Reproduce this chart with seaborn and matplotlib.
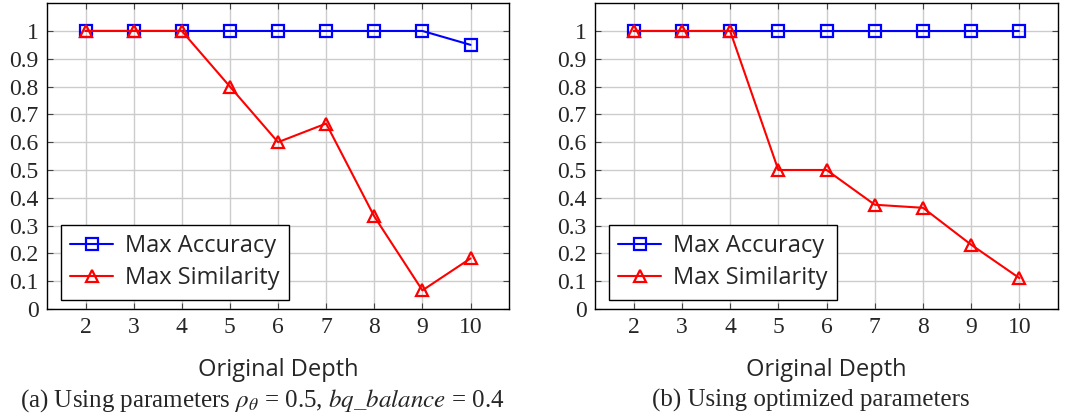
import matplotlib
matplotlib.use("Agg")
import matplotlib.pyplot as plt
import seaborn as sns

depths = [2, 3, 4, 5, 6, 7, 8, 9, 10]
acc_a = [1, 1, 1, 1, 1, 1, 1, 1, 0.95]
sim_a = [1, 1, 1, 0.8, 0.6, 0.667, 0.333, 0.067, 0.182]
acc_b = [1, 1, 1, 1, 1, 1, 1, 1, 1]
sim_b = [1, 1, 1, 0.5, 0.5, 0.375, 0.364, 0.231, 0.111]
y_ticks = [0, 0.1, 0.2, 0.3, 0.4, 0.5, 0.6, 0.7, 0.8, 0.9, 1]
y_labels = ["0", "0.1", "0.2", "0.3", "0.4", "0.5", "0.6", "0.7", "0.8", "0.9", "1"]
captions = [r"(a) Using parameters $\rho_\theta$ = 0.5, $bq\_balance$ = 0.4",
            "(b) Using optimized parameters"]

sns.set_style("white")
plt.rcParams["font.family"] = ["Liberation Serif", "DejaVu Serif"]
plt.rcParams["mathtext.fontset"] = "stix"
sans = ["Open Sans", "DejaVu Sans"]

fig = plt.figure(figsize=(10.78, 4.19), dpi=100)
axes = [fig.add_axes([0.0436, 0.2625, 0.4286, 0.730]),
        fig.add_axes([0.552, 0.2625, 0.4295, 0.730])]

for ax, acc, sim, cap in zip(axes, [acc_a, acc_b], [sim_a, sim_b], captions):
    sns.lineplot(x=depths, y=acc, ax=ax, color="blue", marker="s", markersize=9,
                 markerfacecolor="none", markeredgecolor="blue", markeredgewidth=1.6,
                 linewidth=1.5, label="Max Accuracy")
    sns.lineplot(x=depths, y=sim, ax=ax, color="red", marker="^", markersize=9,
                 markerfacecolor="none", markeredgecolor="red", markeredgewidth=1.6,
                 linewidth=1.5, label="Max Similarity")
    ax.set_xlim(1.2, 10.8)
    ax.set_ylim(0, 1.1)
    ax.set_xticks(depths)
    ax.set_xticklabels([str(d) for d in depths], fontsize=17)
    ax.set_yticks(y_ticks)
    ax.set_yticklabels(y_labels, fontsize=17)
    ax.grid(True, color="#cccccc", linewidth=1.0)
    ax.set_axisbelow(True)
    ax.tick_params(direction="in", length=4, width=0.8, color="#444444",
                   top=True, right=True, bottom=True, left=True, pad=6)
    for s in ax.spines.values():
        s.set_color("black")
        s.set_linewidth(1.0)
    ax.set_xlabel("Original Depth", fontsize=17, family=sans, labelpad=14)
    leg = ax.legend(loc="lower left", bbox_to_anchor=(0.03, 0.03),
                    prop={"family": sans, "size": 17},
                    frameon=True, fancybox=False, framealpha=1, edgecolor="black",
                    borderpad=0.4, handlelength=1.8, handletextpad=0.5,
                    labelspacing=0.35, borderaxespad=0)
    leg.get_frame().set_linewidth(1.0)
    bbox = ax.get_position()
    fig.text(bbox.x0 + bbox.width / 2 - 0.015, 0.045, cap, ha="center", va="center",
             fontsize=18)

fig.savefig("out.png", dpi=100)
